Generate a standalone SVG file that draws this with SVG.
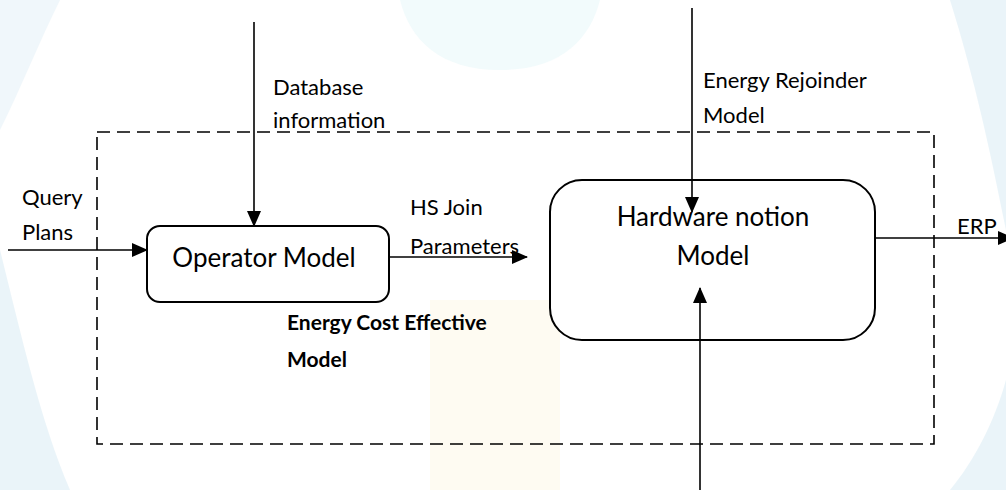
<svg xmlns="http://www.w3.org/2000/svg" width="1006" height="490" viewBox="0 0 1006 490">
<style>
.lbl{font-family:Lato,"Liberation Sans",sans-serif;font-size:22px;fill:#000}
.big{font-family:Lato,"Liberation Sans",sans-serif;font-size:26px;fill:#000}
.bold{font-family:Lato,"Liberation Sans",sans-serif;font-size:21px;font-weight:bold;fill:#000}
.box{fill:#fff;stroke:#000;stroke-width:2}
.conn{stroke:#000;stroke-width:1.6;fill:none}
.dash{fill:none;stroke:#000;stroke-width:1.6;stroke-dasharray:13 7}
</style>
<defs>
<marker id="arr" markerUnits="userSpaceOnUse" markerWidth="16" markerHeight="14" refX="15" refY="7" orient="auto">
<path d="M0,0 L16,7 L0,14 Z" fill="#000"/>
</marker>
</defs>
<rect width="1006" height="490" fill="#fff"/>
<g id="watermark" opacity="0.5">
<path d="M0,250 C20,330 40,420 70,490 L0,490 Z" fill="#d6e9f4"/>
<path d="M0,0 L60,0 C40,40 20,90 0,130 Z" fill="#e3f1f8"/>
<path d="M950,0 L1006,0 L1006,230 C990,150 975,80 950,0 Z" fill="#d6e9f4"/>
<path d="M1006,380 L1006,490 L950,490 C975,460 995,420 1006,380 Z" fill="#d6e9f4"/>
<path d="M400,0 L600,0 C590,40 560,70 500,70 C440,70 410,40 400,0 Z" fill="#e6f7fa"/>
<rect x="430" y="300" width="130" height="190" fill="#fdf8e6"/>
</g>
<rect id="boundary" class="dash" x="97" y="132" width="837" height="312"/>
<g id="operator-model">
<rect class="box" x="147" y="226" width="242" height="76" rx="13"/>
<text class="big" x="264" y="267" text-anchor="middle">Operator Model</text>
</g>
<g id="hardware-model">
<rect class="box" x="550" y="180" width="325" height="160" rx="32"/>
<text class="big" x="713" y="226" text-anchor="middle">Hardware notion</text>
<text class="big" x="713" y="265" text-anchor="middle">Model</text>
</g>
<g id="connectors">
<line class="conn" x1="8" y1="250" x2="147" y2="250" marker-end="url(#arr)"/>
<line class="conn" x1="254" y1="22" x2="254" y2="226" marker-end="url(#arr)"/>
<line class="conn" x1="389" y1="257" x2="527" y2="257" marker-end="url(#arr)"/>
<line class="conn" x1="692" y1="8" x2="692" y2="212" marker-end="url(#arr)"/>
<line class="conn" x1="700" y1="490" x2="700" y2="288" marker-end="url(#arr)"/>
<line class="conn" x1="875" y1="238" x2="1013" y2="238" marker-end="url(#arr)"/>
</g>
<g id="labels">
<text class="lbl" x="22" y="205">Query</text>
<text class="lbl" x="22" y="240">Plans</text>
<text class="lbl" x="273" y="95">Database</text>
<text class="lbl" x="273" y="128">information</text>
<text class="lbl" x="703" y="88">Energy Rejoinder</text>
<text class="lbl" x="703" y="123">Model</text>
<text class="lbl" x="410" y="215">HS Join</text>
<text class="lbl" x="410" y="254">Parameters</text>
<text class="lbl" x="957" y="234">ERP</text>
<text class="bold" x="287" y="330">Energy Cost Effective</text>
<text class="bold" x="287" y="367">Model</text>
</g>
</svg>
